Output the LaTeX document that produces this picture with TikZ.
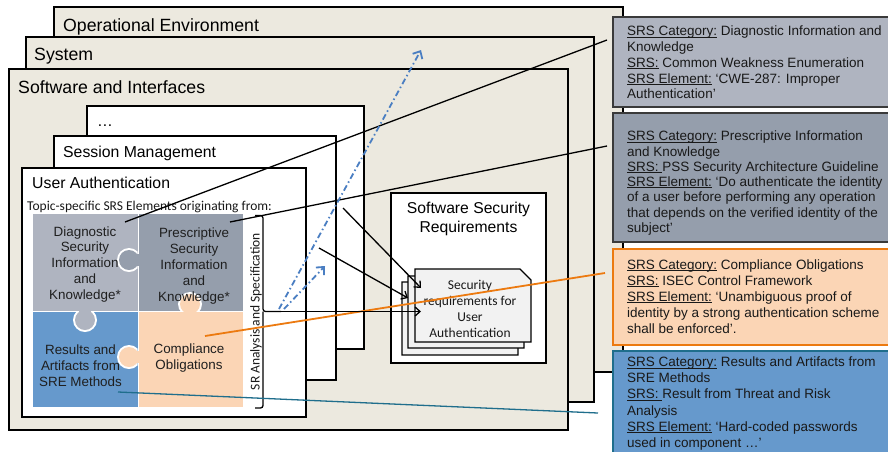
\documentclass[tikz,border=0pt]{standalone}
\usepackage{fontspec}
\setmainfont{Liberation Sans}
\newfontfamily\calibri{Carlito}
\usetikzlibrary{arrows.meta,calc}

\definecolor{tanbg}{HTML}{ECE9DF}
\definecolor{diag}{HTML}{AFB4C0}
\definecolor{presc}{HTML}{959EAC}
\definecolor{resblue}{HTML}{6699CC}
\definecolor{peach}{HTML}{FBD5B5}
\definecolor{orangeln}{HTML}{EC7A10}
\definecolor{tealln}{HTML}{1F6E8C}
\definecolor{dashblue}{HTML}{4A7EC2}
\definecolor{docfill}{HTML}{F2F2F2}
\definecolor{boxedge}{HTML}{3A3A3A}

% label underlined just below the baseline
\newcommand\srsul[1]{\leavevmode\setbox0\hbox{#1}\rlap{\rule[-1.6pt]{\wd0}{0.75pt}}\box0\relax}
% knob of a puzzle piece: host clip, centre, colour, neck rectangle corners
\newcommand\puzzleknob[4]{%
  \begin{scope}\clip #1; \fill[white] #2 circle (12); \end{scope}
  \fill[#3] #2 circle (10);
  \fill[#3] #4;
}
% stacked document with a folded top-right corner
\newcommand\docsheet[4]{%
  \filldraw[fill=docfill,draw=black,line width=1.4pt]
    (#1,#2) -- (#3-11,#2) -- (#3,#2+11) -- (#3,#4) -- (#1,#4) -- cycle;
}

\begin{document}
\begin{tikzpicture}[x=1pt,y=-1pt,
  layer/.style={draw=black,line width=1.4pt,fill=tanbg},
  pane/.style={draw=black,line width=1.4pt,fill=white},
  bigtitle/.style={anchor=base west,inner sep=0pt,font=\fontsize{17.7}{21}\selectfont},
  midtitle/.style={anchor=base west,inner sep=0pt,font=\fontsize{15.8}{19}\selectfont},
  piecetext/.style={anchor=base,inner sep=0pt,text=black!88,font=\fontsize{13.4}{15.8}\selectfont},
  calitext/.style={inner sep=0pt,text=black!90,font=\calibri\fontsize{13.5}{16}\selectfont},
  srsbox/.style={line width=1.6pt},
  srstext/.style={anchor=base west,inner sep=0pt,text=black!90},
  link/.style={line width=1.3pt},
  feed/.style={line width=1.3pt,-{Straight Barb[length=5pt,width=9pt]}},
  trace/.style={dashblue,line width=1.8pt,dash pattern=on 6pt off 3pt on 1.5pt off 3pt,
                -{Straight Barb[length=6pt,width=11pt]}},
]
\useasboundingbox (0,0) rectangle (888,451);
\fill[white] (0,0) rectangle (888,451);

% nested context layers
\draw[layer] (54,7) rectangle (623,372);
\node[bigtitle] (openv) at (63,31) {Operational Environment};
\draw[layer] (26,37) rectangle (594,402);
\node[bigtitle] (system) at (34,60) {System};
\draw[layer] (9,69) rectangle (568,430);
\node[bigtitle] (swif) at (18,93) {Software and Interfaces};

% security topics
\draw[pane] (87,106) rectangle (364,349);
\node[midtitle] (dots) at (97,126) {…};
\draw[pane] (54,136) rectangle (336,380);
\node[midtitle] (session) at (63,157) {Session Management};
\draw[pane] (22,168) rectangle (306,417);
\node[midtitle] (userauth) at (32,188) {User Authentication};
\node[calitext,anchor=base west] (topic) at (27,210) {Topic-specific SRS Elements originating from:};

% puzzle of SRS categories
\fill[diag]    (33,214) rectangle (137.5,310.5);
\fill[presc]   (139,214) rectangle (243,310.5);
\fill[resblue] (33,312) rectangle (137.5,407);
\fill[peach]   (139,312) rectangle (243,407);
\puzzleknob{(33,214) rectangle (137.5,310.5)}{(129,260)}{presc}{(129,254) rectangle (140,266)}
\puzzleknob{(139,214) rectangle (243,310.5)}{(190,304)}{peach}{(184,304) rectangle (196,313)}
\puzzleknob{(33,312) rectangle (137.5,407)}{(85,320)}{diag}{(79,309) rectangle (91,320)}
\puzzleknob{(33,312) rectangle (137.5,407)}{(129,357)}{peach}{(129,351) rectangle (140,363)}

\node[piecetext] (diagtxt) at (85,236) {\parbox[t]{110pt}{\centering Diagnostic\\ Security\\ Information\\ and\\ Knowledge*}};
\node[piecetext] (presctxt) at (194,237) {\parbox[t]{110pt}{\centering\fontsize{13.4}{16}\selectfont Prescriptive\\ Security\\ Information\\ and\\ Knowledge*}};
\node[piecetext] (restxt) at (80.5,354) {\parbox[t]{110pt}{\centering\fontsize{13.4}{16}\selectfont Results and\\ Artifacts from\\ SRE Methods}};
\node[piecetext] (comptxt) at (189,353) {\parbox[t]{110pt}{\centering\fontsize{13.4}{16}\selectfont Compliance\\ Obligations}};

% analysis and specification brace
\draw[line width=1.3pt,rounded corners=2.5pt] (255,215.5) -- (263,215.5) -- (263,311.5) -- (281,311.5);
\draw[line width=1.3pt,rounded corners=2.5pt] (255,408) -- (263,408) -- (263,311.5);
\node[calitext,rotate=90,anchor=base] (sras) at (259.5,311.5) {SR Analysis and Specification};

% software security requirements
\draw[pane] (391,193) rectangle (546,363);
\node[anchor=base,inner sep=0pt,font=\fontsize{15.7}{19}\selectfont] (ssr) at (468.5,213)
  {\parbox[t]{150pt}{\centering Software Security\\ Requirements}};
\docsheet{402}{282}{518}{355}
\docsheet{408}{276}{524}{348}
\docsheet{415}{269}{531}{342}
\node[calitext,anchor=base] (doctxt) at (470,289)
  {\parbox[t]{110pt}{\centering Security\\ requirements for\\ User\\ Authentication}};

% SRS element examples
\filldraw[srsbox,fill=diag,draw=boxedge] (613,17) rectangle (895,107);
\node[srstext] (t1) at (627,35.7) {\parbox[t]{280pt}{\fontsize{13.5}{15.8}\selectfont
  \srsul{SRS Category:} Diagnostic Information and\\ Knowledge\\
  \srsul{SRS:} Common Weakness Enumeration\\
  \srsul{SRS Element:} ‘CWE-287: Improper\\ Authentication’}};
\filldraw[srsbox,fill=presc,draw=boxedge] (613,113) rectangle (895,242);
\node[srstext] (t2) at (627,140.7) {\parbox[t]{280pt}{\fontsize{13.5}{15.3}\selectfont
  \srsul{SRS Category:} Prescriptive Information\\ and Knowledge\\
  \srsul{SRS: }PSS Security Architecture Guideline\\
  \srsul{SRS Element:} ‘Do authenticate the identity\\ of a user before performing any operation\\
  that depends on the verified identity of the\\ subject’}};
\filldraw[srsbox,fill=peach,draw=orangeln] (613,249) rectangle (895,345);
\node[srstext] (t3) at (627,269) {\parbox[t]{280pt}{\fontsize{13.5}{16.2}\selectfont
  \srsul{SRS Category:} Compliance Obligations\\
  \srsul{SRS:} ISEC Control Framework\\
  \srsul{SRS Element:} ‘Unambiguous proof of\\ identity by a strong authentication scheme\\
  shall be enforced’.}};
\filldraw[srsbox,fill=resblue,draw=tealln] (613,351) rectangle (895,460);
\node[srstext] (t4) at (627,366.7) {\parbox[t]{280pt}{\fontsize{13.5}{16.1}\selectfont
  \srsul{SRS Category:} Results and Artifacts from\\ SRE Methods\\
  \srsul{SRS: }Result from Threat and Risk\\ Analysis\\
  \srsul{SRS Element:} ‘Hard-coded passwords\\ used in component …’}};

% connector end points
\coordinate (diagpt) at (125,222);
\coordinate (prescpt) at (230,222);
\coordinate (comppt) at (205,336);
\coordinate (respt) at (118,392);
\coordinate (in1) at (607,40);
\coordinate (in2) at (607,146);
\coordinate (in3) at (605,273);
\coordinate (in4) at (598,413);
\coordinate (dotsout) at (343,208);
\coordinate (sessout) at (319,248);
\coordinate (bracetip) at (281,311.5);
\coordinate (docA) at (421,288);
\coordinate (docB) at (408,298);
\coordinate (docC) at (421,311.5);
\coordinate (traceA) at (279,309);
\coordinate (traceB) at (284,309);
\coordinate (upA) at (421,50);
\coordinate (upB) at (325,266);

% links from categories to their examples
\draw[link,black] (diagpt) -- (in1);
\draw[link,black] (prescpt) -- (in2);
\draw[link,orangeln,line width=1.8pt] (comppt) -- (in3);
\draw[link,tealln] (respt) -- (in4);

% requirements flowing into the document stack
\draw[feed] (dotsout) -- (docA);
\draw[feed] (sessout) -- (docB);
\draw[feed] (bracetip) -- (docC);

% propagation to outer layers
\draw[trace] (traceA) -- (upA);
\draw[trace] (traceB) -- (upB);
\end{tikzpicture}
\end{document}
